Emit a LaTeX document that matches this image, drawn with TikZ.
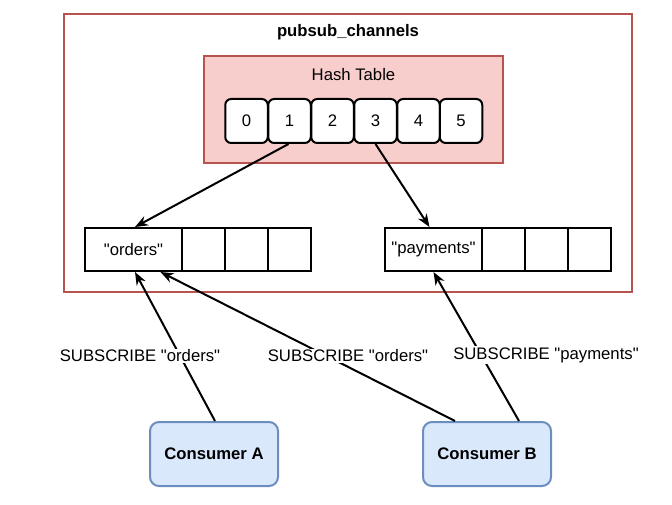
\documentclass[tikz,border=0pt]{standalone}
\usepackage{fontspec}
\setmainfont{Liberation Sans}[Ligatures=TeXOff]
\usetikzlibrary{arrows.meta}
\definecolor{redline}{HTML}{B85450}
\definecolor{redfill}{HTML}{F8CECC}
\definecolor{bluefill}{HTML}{DAE8FC}
\definecolor{blueline}{HTML}{6C8EBF}
\tikzset{
  txt/.style={font=\fontsize{16.7}{20}\selectfont, inner sep=0pt},
  hcell/.style={draw=black, line width=2pt, fill=white, rounded corners=6pt, minimum width=42.5pt, minimum height=44pt, inner sep=0pt, font=\fontsize{16.7}{20}\selectfont},
  acell/.style={draw=black, line width=2pt, fill=white, minimum width=43pt, minimum height=43pt, inner sep=0pt, font=\fontsize{16.7}{20}\selectfont},
  consumer/.style={draw=blueline, line width=2pt, fill=bluefill, rounded corners=9pt, minimum width=128pt, minimum height=64pt, inner sep=0pt, font=\bfseries\fontsize{16.7}{20}\selectfont},
  conn/.style={line width=2pt, -{Stealth[length=13pt,width=10pt]}},
  lbl/.style={fill=white, inner sep=1pt, font=\fontsize{16.7}{20}\selectfont},
}
\begin{document}
\begin{tikzpicture}[x=1pt,y=-1pt]
\useasboundingbox (0,0) rectangle (672,505);
% outer container
\node[draw=redline, line width=2pt, fill=white, minimum width=568pt, minimum height=278pt, inner sep=0pt] (outer) at (348,153) {};
\node[txt, font=\bfseries\fontsize{16.7}{20}\selectfont] (title) at (348,32) {pubsub\_channels};
% hash table
\node[draw=redline, line width=2pt, fill=redfill, minimum width=299pt, minimum height=107pt, inner sep=0pt] (hash) at (353.5,109.5) {};
\node[txt] (htitle) at (353.5,75) {Hash Table};
\node[hcell] (c0) at (246.5,121) {0};
\node[hcell] (c1) at (289.5,121) {1};
\node[hcell] (c2) at (332.5,121) {2};
\node[hcell] (c3) at (375.5,121) {3};
\node[hcell] (c4) at (418.5,121) {4};
\node[hcell] (c5) at (461,121) {5};
% orders array
\node[acell, minimum width=97pt] (o0) at (133.5,249.5) {"orders"};
\node[acell] (o1) at (203.5,249.5) {};
\node[acell] (o2) at (246.5,249.5) {};
\node[acell] (o3) at (289.5,249.5) {};
% payments array
\node[acell, minimum width=97pt] (p0) at (433.5,249.5) {"payments"};
\node[acell] (p1) at (503.5,249.5) {};
\node[acell] (p2) at (546.5,249.5) {};
\node[acell] (p3) at (589,249.5) {};
% consumers
\node[consumer] (ca) at (214,454) {Consumer A};
\node[consumer] (cb) at (487,454) {Consumer B};
% arrows
\draw[conn] ([xshift=-1pt]c1.south) -- ([xshift=1.5pt]o0.north);
\draw[conn] (c3.south) -- ([xshift=-4pt]p0.north);
\draw[conn] ([xshift=1pt]ca.north) -- ([xshift=1.5pt]o0.south);
\draw[conn] ([xshift=-32pt]cb.north) -- ([xshift=27pt]o0.south);
\draw[conn] ([xshift=32pt]cb.north) -- ([xshift=0pt]p0.south);
% labels
\node[lbl] (l1) at (140,356) {SUBSCRIBE "orders"};
\node[lbl] (l2) at (348,356) {SUBSCRIBE "orders"};
\node[lbl] (l3) at (546,355) {SUBSCRIBE "payments"};
\end{tikzpicture}
\end{document}
